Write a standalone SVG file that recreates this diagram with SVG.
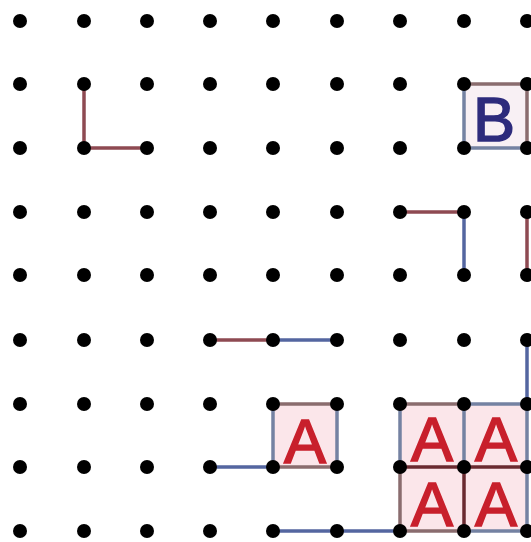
<svg xmlns="http://www.w3.org/2000/svg" width="531" height="542" viewBox="0 0 531 542">
<style>
.dot{fill:#000}
.red{stroke:#8e4a52;stroke-width:3.5;stroke-linecap:round}
.blue{stroke:#5466a0;stroke-width:3.5;stroke-linecap:round}
.eh{stroke:#8a6c6e;stroke-width:3.5}
.ev{stroke:#7482a2;stroke-width:3.5}
.ed{stroke:#6a2a30;stroke-width:3.5}
.cell{fill:#fbe6ea}
.la{font-family:"Liberation Sans",Arial,sans-serif;font-size:63px;fill:#c8202c;stroke:#c8202c;stroke-width:1.6;text-anchor:middle}
.lb{font-family:"Liberation Sans",Arial,sans-serif;font-size:63px;fill:#2d2b7c;stroke:#2d2b7c;stroke-width:1.6;text-anchor:middle}
</style>
<rect width="531" height="542" fill="#fff"/>
<g id="cells">
<rect class="cell" x="273" y="404" width="64" height="63"/>
<rect class="cell" x="400" y="404" width="127" height="127"/>
<rect x="464" y="84" width="63" height="64" fill="#f8f0f4"/>
</g>
<g id="connectors">
<line class="red" x1="84" y1="84" x2="84" y2="148"/>
<line class="red" x1="84" y1="148" x2="147" y2="148"/>
<line class="red" x1="400" y1="212" x2="464" y2="212"/>
<line class="red" x1="527" y1="212" x2="527" y2="275"/>
<line class="red" x1="210" y1="340" x2="273" y2="340"/>
<line class="blue" x1="464" y1="212" x2="464" y2="275"/>
<line class="blue" x1="273" y1="340" x2="337" y2="340"/>
<line class="blue" x1="527" y1="340" x2="527" y2="404"/>
<line class="blue" x1="210" y1="467" x2="273" y2="467"/>
<line class="blue" x1="273" y1="531" x2="400" y2="531"/>
</g>
<g id="nodeB">
<line class="eh" x1="464" y1="84" x2="527" y2="84"/>
<line class="ev" x1="464" y1="84" x2="464" y2="148"/>
<line class="ev" x1="464" y1="148" x2="527" y2="148"/>
<line class="eh" x1="527" y1="84" x2="527" y2="148"/>
<text class="lb" x="494" y="141">B</text>
</g>
<g id="nodeA1">
<line class="eh" x1="273" y1="404" x2="337" y2="404"/>
<line class="eh" x1="273" y1="467" x2="337" y2="467"/>
<line class="ev" x1="273" y1="404" x2="273" y2="467"/>
<line class="ev" x1="337" y1="404" x2="337" y2="467"/>
<text class="la" x="305" y="463">A</text>
</g>
<g id="nodeA2">
<line class="eh" x1="400" y1="404" x2="464" y2="404"/>
<line class="ev" x1="464" y1="404" x2="527" y2="404"/>
<line class="ev" x1="400" y1="404" x2="400" y2="467"/>
<line class="ev" x1="464" y1="404" x2="464" y2="467"/>
<line class="ev" x1="527" y1="404" x2="527" y2="467"/>
<line class="ed" x1="400" y1="467" x2="527" y2="467"/>
<line class="eh" x1="400" y1="467" x2="400" y2="531"/>
<line class="ed" x1="464" y1="467" x2="464" y2="531"/>
<line class="ev" x1="527" y1="467" x2="527" y2="531"/>
<line class="eh" x1="400" y1="531" x2="464" y2="531"/>
<line class="ev" x1="464" y1="531" x2="527" y2="531"/>
<text class="la" x="432" y="461">A</text>
<text class="la" x="496" y="461">A</text>
<text class="la" x="432" y="526">A</text>
<text class="la" x="496" y="526">A</text>
</g>
<g id="dots">
<g id="row1"><circle class="dot" cx="20" cy="21" r="7"/><circle class="dot" cx="84" cy="21" r="7"/><circle class="dot" cx="147" cy="21" r="7"/><circle class="dot" cx="210" cy="21" r="7"/><circle class="dot" cx="273" cy="21" r="7"/><circle class="dot" cx="337" cy="21" r="7"/><circle class="dot" cx="400" cy="21" r="7"/><circle class="dot" cx="464" cy="21" r="7"/><circle class="dot" cx="527" cy="21" r="7"/></g>
<g id="row2"><circle class="dot" cx="20" cy="84" r="7"/><circle class="dot" cx="84" cy="84" r="7"/><circle class="dot" cx="147" cy="84" r="7"/><circle class="dot" cx="210" cy="84" r="7"/><circle class="dot" cx="273" cy="84" r="7"/><circle class="dot" cx="337" cy="84" r="7"/><circle class="dot" cx="400" cy="84" r="7"/><circle class="dot" cx="464" cy="84" r="7"/><circle class="dot" cx="527" cy="84" r="7"/></g>
<g id="row3"><circle class="dot" cx="20" cy="148" r="7"/><circle class="dot" cx="84" cy="148" r="7"/><circle class="dot" cx="147" cy="148" r="7"/><circle class="dot" cx="210" cy="148" r="7"/><circle class="dot" cx="273" cy="148" r="7"/><circle class="dot" cx="337" cy="148" r="7"/><circle class="dot" cx="400" cy="148" r="7"/><circle class="dot" cx="464" cy="148" r="7"/><circle class="dot" cx="527" cy="148" r="7"/></g>
<g id="row4"><circle class="dot" cx="20" cy="212" r="7"/><circle class="dot" cx="84" cy="212" r="7"/><circle class="dot" cx="147" cy="212" r="7"/><circle class="dot" cx="210" cy="212" r="7"/><circle class="dot" cx="273" cy="212" r="7"/><circle class="dot" cx="337" cy="212" r="7"/><circle class="dot" cx="400" cy="212" r="7"/><circle class="dot" cx="464" cy="212" r="7"/><circle class="dot" cx="527" cy="212" r="7"/></g>
<g id="row5"><circle class="dot" cx="20" cy="275" r="7"/><circle class="dot" cx="84" cy="275" r="7"/><circle class="dot" cx="147" cy="275" r="7"/><circle class="dot" cx="210" cy="275" r="7"/><circle class="dot" cx="273" cy="275" r="7"/><circle class="dot" cx="337" cy="275" r="7"/><circle class="dot" cx="400" cy="275" r="7"/><circle class="dot" cx="464" cy="275" r="7"/><circle class="dot" cx="527" cy="275" r="7"/></g>
<g id="row6"><circle class="dot" cx="20" cy="340" r="7"/><circle class="dot" cx="84" cy="340" r="7"/><circle class="dot" cx="147" cy="340" r="7"/><circle class="dot" cx="210" cy="340" r="7"/><circle class="dot" cx="273" cy="340" r="7"/><circle class="dot" cx="337" cy="340" r="7"/><circle class="dot" cx="400" cy="340" r="7"/><circle class="dot" cx="464" cy="340" r="7"/><circle class="dot" cx="527" cy="340" r="7"/></g>
<g id="row7"><circle class="dot" cx="20" cy="404" r="7"/><circle class="dot" cx="84" cy="404" r="7"/><circle class="dot" cx="147" cy="404" r="7"/><circle class="dot" cx="210" cy="404" r="7"/><circle class="dot" cx="273" cy="404" r="7"/><circle class="dot" cx="337" cy="404" r="7"/><circle class="dot" cx="400" cy="404" r="7"/><circle class="dot" cx="464" cy="404" r="7"/><circle class="dot" cx="527" cy="404" r="7"/></g>
<g id="row8"><circle class="dot" cx="20" cy="467" r="7"/><circle class="dot" cx="84" cy="467" r="7"/><circle class="dot" cx="147" cy="467" r="7"/><circle class="dot" cx="210" cy="467" r="7"/><circle class="dot" cx="273" cy="467" r="7"/><circle class="dot" cx="337" cy="467" r="7"/><circle class="dot" cx="400" cy="467" r="7"/><circle class="dot" cx="464" cy="467" r="7"/><circle class="dot" cx="527" cy="467" r="7"/></g>
<g id="row9"><circle class="dot" cx="20" cy="531" r="7"/><circle class="dot" cx="84" cy="531" r="7"/><circle class="dot" cx="147" cy="531" r="7"/><circle class="dot" cx="210" cy="531" r="7"/><circle class="dot" cx="273" cy="531" r="7"/><circle class="dot" cx="337" cy="531" r="7"/><circle class="dot" cx="400" cy="531" r="7"/><circle class="dot" cx="464" cy="531" r="7"/><circle class="dot" cx="527" cy="531" r="7"/></g>
</g>
</svg>
